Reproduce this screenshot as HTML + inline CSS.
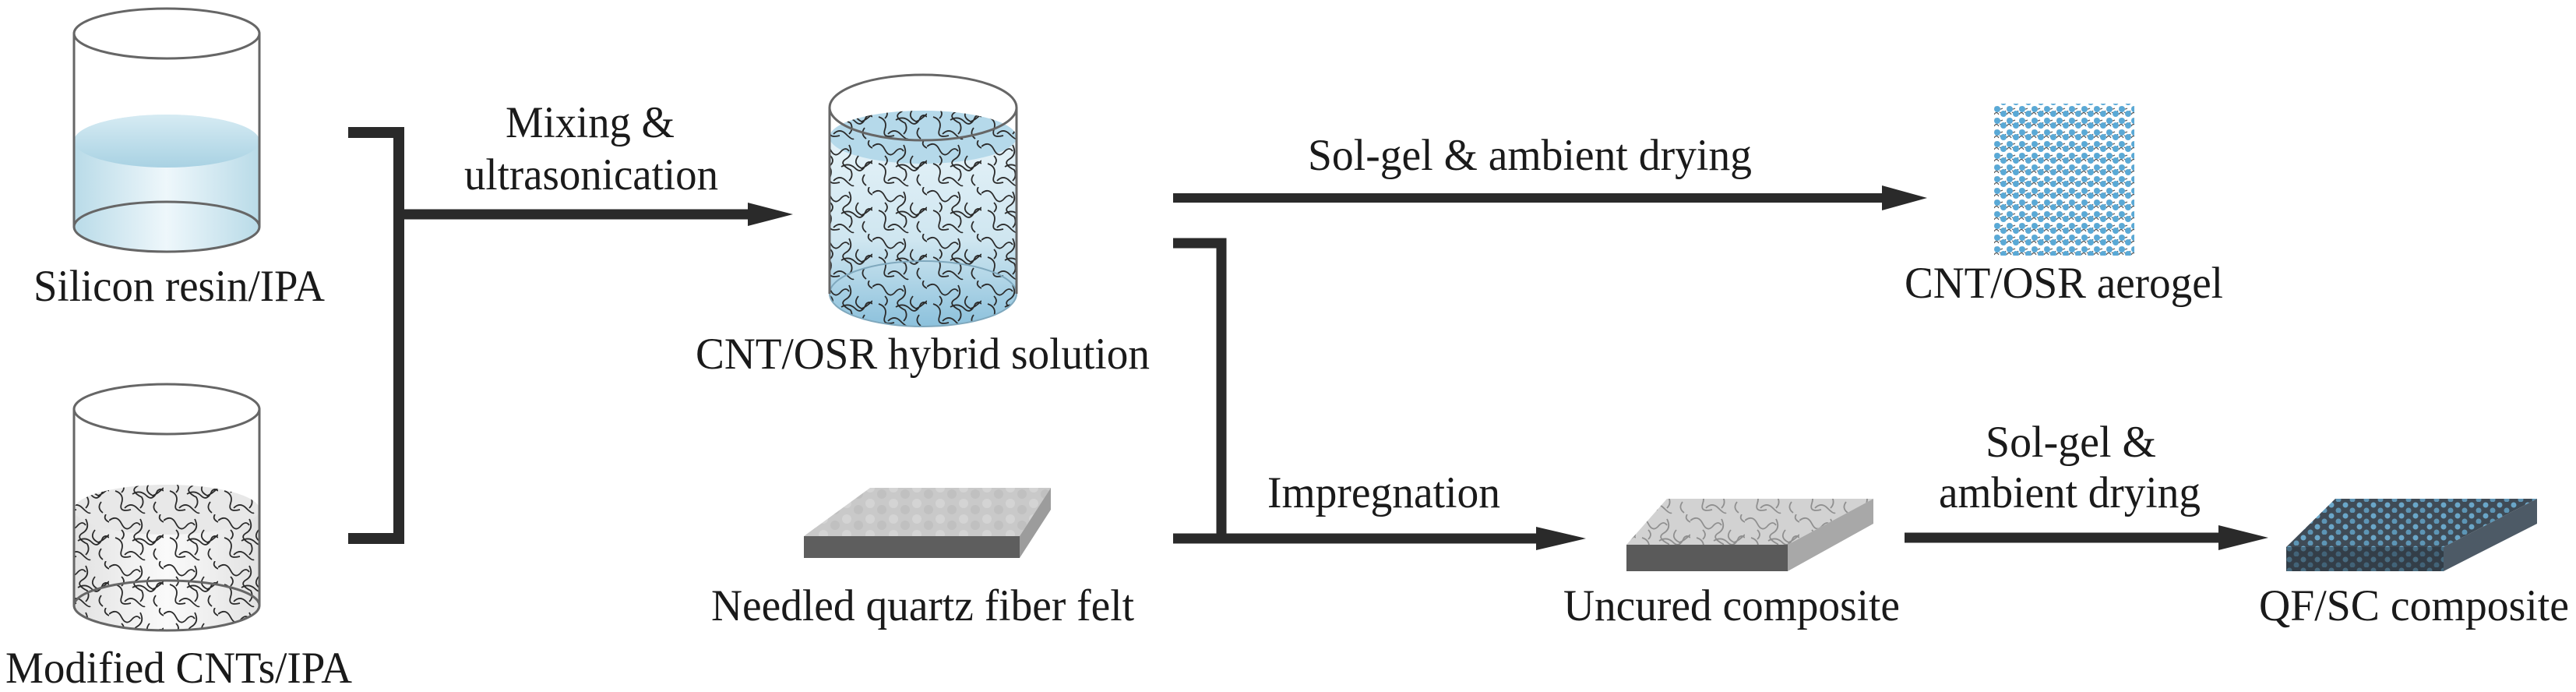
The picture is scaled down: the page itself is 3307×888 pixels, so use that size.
<!DOCTYPE html>
<html><head><meta charset="utf-8"><style>html,body{margin:0;padding:0;background:#fff}svg{display:block}
text{font-family:"Liberation Serif","Times New Roman",Times,"DejaVu Serif","Noto Serif CJK SC",serif;font-size:57px;fill:#1a1a1a}</style></head>
<body>
<svg width="3307" height="888" viewBox="0 0 3307 888" xmlns="http://www.w3.org/2000/svg">
<defs>
<linearGradient id="liq1" x1="0" y1="0" x2="1" y2="0">
<stop offset="0" stop-color="#b9dbe8"/><stop offset="0.5" stop-color="#eef7fb"/><stop offset="1" stop-color="#b9dbe8"/></linearGradient>
<linearGradient id="liqTop" x1="0" y1="0" x2="0" y2="1">
<stop offset="0" stop-color="#d6ebf3"/><stop offset="1" stop-color="#a9d2e3"/></linearGradient>
<linearGradient id="liq3" x1="0" y1="0" x2="0" y2="1">
<stop offset="0" stop-color="#eaf5fa"/><stop offset="0.6" stop-color="#cfe6f0"/><stop offset="1" stop-color="#8cc1dc"/></linearGradient>
<linearGradient id="gray2" x1="0" y1="0" x2="1" y2="0">
<stop offset="0" stop-color="#e2e2e2"/><stop offset="0.5" stop-color="#fafafa"/><stop offset="1" stop-color="#e2e2e2"/></linearGradient>
<pattern id="cnt" width="70" height="60" patternUnits="userSpaceOnUse">
<path d="M0 8 q10 -8 16 4 t14 2 q6 -6 10 0 M40 6 q6 12 -4 18 t6 14 q4 8 -2 14 M8 30 q12 4 8 16 t12 8 M30 34 q10 -6 18 2 t14 -6 q4 -4 8 0 M52 20 q-8 10 4 16 q6 -2 14 -10 M20 52 q8 -8 16 0 t10 6 M60 44 q-6 8 2 14 M16 20 q6 6 0 12 M66 0 q-4 6 4 10" fill="none" stroke="#2b2b2b" stroke-width="1.8"/>
</pattern>
<pattern id="aero" width="16" height="15" patternUnits="userSpaceOnUse">
<path d="M1 2 q5 5 10 2 M7 9 q5 3 8 -2 M0 12 q3 -5 6 0" fill="none" stroke="#555" stroke-width="1.2"/>
<circle cx="4" cy="5" r="4" fill="#5aa9d6"/><circle cx="12" cy="11" r="4" fill="#5aa9d6"/>
</pattern>
<pattern id="qf" width="18" height="14" patternUnits="userSpaceOnUse">
<rect width="18" height="14" fill="#3f4b56"/><circle cx="5" cy="4" r="3.5" fill="#6aa6c8"/><circle cx="14" cy="11" r="3.5" fill="#5d95b5"/></pattern>
<pattern id="felt" width="30" height="20" patternUnits="userSpaceOnUse">
<rect width="30" height="20" fill="#c9c9c9"/><circle cx="7" cy="6" r="6" fill="#d4d4d4"/><circle cx="22" cy="14" r="6" fill="#c0c0c0"/></pattern>
<clipPath id="c2"><path d="M95 654 a119 32 0 0 1 238 0 V777 a119 32 0 0 1 -238 0 Z"/></clipPath>
<clipPath id="c3"><path d="M1065 176 a120 34 0 0 1 240 0 V377 a120 42 0 0 1 -240 0 Z"/></clipPath>
<clipPath id="cu"><polygon points="2140,640 2405,640 2295,699 2088,699"/></clipPath>
</defs>

<path d="M95 181 a119 34 0 0 1 238 0 V291 a119 32 0 0 1 -238 0 Z" fill="url(#liq1)"/>
<ellipse cx="214" cy="181" rx="119" ry="34" fill="url(#liqTop)"/>
<ellipse cx="214" cy="291" rx="119" ry="32" fill="none" stroke="#666" stroke-width="3"/>
<ellipse cx="214" cy="43" rx="119" ry="32" fill="none" stroke="#666" stroke-width="3"/>
<line x1="95" y1="43" x2="95" y2="291" stroke="#666" stroke-width="3"/>
<line x1="333" y1="43" x2="333" y2="291" stroke="#666" stroke-width="3"/>

<path d="M95 654 a119 32 0 0 1 238 0 V777 a119 32 0 0 1 -238 0 Z" fill="url(#gray2)"/>
<ellipse cx="214" cy="654" rx="119" ry="32" fill="#e8e8e8"/>
<rect x="95" y="620" width="240" height="200" fill="url(#cnt)" clip-path="url(#c2)"/>
<ellipse cx="214" cy="777" rx="119" ry="32" fill="none" stroke="#666" stroke-width="3"/>
<ellipse cx="214" cy="525" rx="119" ry="32" fill="none" stroke="#666" stroke-width="3"/>
<line x1="95" y1="525" x2="95" y2="777" stroke="#666" stroke-width="3"/>
<line x1="333" y1="525" x2="333" y2="777" stroke="#666" stroke-width="3"/>

<path d="M447 170 H512 V691 H447" fill="none" stroke="#2a2a2a" stroke-width="14"/>
<line x1="512" y1="275" x2="962" y2="275" stroke="#2a2a2a" stroke-width="13"/>
<polygon points="960,260 1018,275 960,290" fill="#2a2a2a"/>

<path d="M1065 176 a120 34 0 0 1 240 0 V377 a120 42 0 0 1 -240 0 Z" fill="url(#liq3)"/>
<ellipse cx="1185" cy="176" rx="120" ry="34" fill="#b5d9ea"/>
<rect x="1065" y="140" width="242" height="285" fill="url(#cnt)" clip-path="url(#c3)"/>
<ellipse cx="1185" cy="377" rx="120" ry="42" fill="none" stroke="#7fa8bd" stroke-width="2"/>
<ellipse cx="1185" cy="138" rx="120" ry="42" fill="none" stroke="#666" stroke-width="3"/>
<line x1="1065" y1="138" x2="1065" y2="377" stroke="#666" stroke-width="3"/>
<line x1="1305" y1="138" x2="1305" y2="377" stroke="#666" stroke-width="3"/>

<polygon points="1117,626 1349,626 1309,688 1032,688" fill="url(#felt)"/>
<polygon points="1349,626 1349,654 1309,716 1309,688" fill="#9c9c9c"/>
<rect x="1032" y="688" width="277" height="28" fill="#5e5e5e"/>

<line x1="1506" y1="254" x2="2420" y2="254" stroke="#2a2a2a" stroke-width="12"/>
<polygon points="2416,238 2474,254 2416,270" fill="#2a2a2a"/>

<rect x="2560" y="133" width="180" height="195" fill="url(#aero)"/>

<path d="M1506 312 H1568 V691 H1506" fill="none" stroke="#2a2a2a" stroke-width="13"/>
<line x1="1568" y1="691" x2="1975" y2="691" stroke="#2a2a2a" stroke-width="13"/>
<polygon points="1972,676 2036,691 1972,706" fill="#2a2a2a"/>

<polygon points="2140,640 2405,640 2295,699 2088,699" fill="#d2d2d2"/>
<rect x="2088" y="640" width="320" height="60" fill="url(#cnt)" opacity="0.4" clip-path="url(#cu)"/>
<polygon points="2405,640 2405,672 2295,733 2295,699" fill="#a8a8a8"/>
<rect x="2088" y="699" width="207" height="34" fill="#5a5a5a"/>

<line x1="2445" y1="690" x2="2852" y2="690" stroke="#2a2a2a" stroke-width="13"/>
<polygon points="2848,674 2912,690 2848,706" fill="#2a2a2a"/>

<polygon points="2998,640 3257,640 3137,702 2935,702" fill="url(#qf)"/>
<polygon points="3257,640 3257,672 3137,733 3137,702" fill="#4d5a66"/>
<rect x="2935" y="702" width="202" height="31" fill="#27313a"/>
<rect x="2935" y="702" width="202" height="31" fill="url(#qf)" opacity="0.5"/>

<text x="43" y="386" textLength="374" lengthAdjust="spacingAndGlyphs">Silicon resin/IPA</text>
<text x="7" y="876" textLength="445" lengthAdjust="spacingAndGlyphs">Modified CNTs/IPA</text>
<text x="649" y="176" textLength="217" lengthAdjust="spacingAndGlyphs">Mixing &amp;</text>
<text x="596" y="243" textLength="326" lengthAdjust="spacingAndGlyphs">ultrasonication</text>
<text x="893" y="473" textLength="583" lengthAdjust="spacingAndGlyphs">CNT/OSR hybrid solution</text>
<text x="913" y="796" textLength="543" lengthAdjust="spacingAndGlyphs">Needled quartz fiber felt</text>
<text x="1679" y="218" textLength="570" lengthAdjust="spacingAndGlyphs">Sol-gel &amp; ambient drying</text>
<text x="2445" y="382" textLength="409" lengthAdjust="spacingAndGlyphs">CNT/OSR aerogel</text>
<text x="1627" y="651" textLength="299" lengthAdjust="spacingAndGlyphs">Impregnation</text>
<text x="2007" y="796" textLength="432" lengthAdjust="spacingAndGlyphs">Uncured composite</text>
<text x="2549" y="586" textLength="219" lengthAdjust="spacingAndGlyphs">Sol-gel &amp;</text>
<text x="2489" y="651" textLength="336" lengthAdjust="spacingAndGlyphs">ambient drying</text>
<text x="2900" y="796" textLength="398" lengthAdjust="spacingAndGlyphs">QF/SC composite</text>
</svg>
</body></html>
